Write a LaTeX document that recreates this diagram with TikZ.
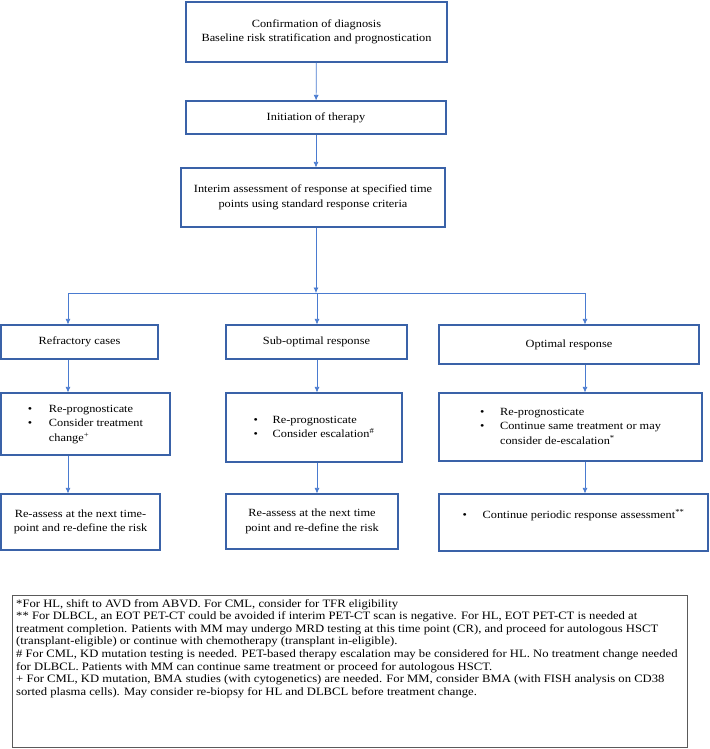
\documentclass[tikz,border=0pt]{standalone}
\usepackage{fontspec}
\setmainfont{Liberation Serif}[FakeStretch=1.12]
\usetikzlibrary{arrows.meta}
\definecolor{boxblue}{HTML}{3A62A8}
\definecolor{arrowblue}{HTML}{4A7BD0}
\definecolor{notegray}{HTML}{5A5A5A}
\tikzset{
  >={Latex[length=5.5pt,width=5pt]},
  flowbox/.style={draw=boxblue,line width=1.1pt,inner sep=0pt,align=center,
    font=\fontsize{11}{14.5}\selectfont},
  flowarrow/.style={->,draw=arrowblue,line width=0.7pt},
  notebox/.style={draw=notegray,line width=0.8pt,inner sep=0pt},
}
\newcommand{\bul}{\textbullet}

\begin{document}
\begin{tikzpicture}[x=1pt,y=-1pt]
    \useasboundingbox (0,0) rectangle (709,749);
    \node[flowbox,minimum width=261,minimum height=60] (diag) at (316.5,32)
      {Confirmation of diagnosis\\Baseline risk stratification and prognostication};
    \node[flowbox,minimum width=260,minimum height=33] (init) at (316,117.5)
      {Initiation of therapy};
    \node[flowbox,minimum width=264,minimum height=59] (interim) at (313,197.5)
      {Interim assessment of response at specified time\\points using standard response criteria};
    \coordinate (split) at (316,293);
    \coordinate (colA) at (68,293);
    \coordinate (colB) at (317,293);
    \coordinate (colC) at (585,293);
    % response groups
    \node[flowbox,minimum width=157,minimum height=34] (refr) at (79.5,342) {Refractory cases};
    \node[flowbox,minimum width=181,minimum height=34] (subopt) at (316.5,342) {Sub-optimal response};
    \node[flowbox,minimum width=260,minimum height=39] (opt) at (569,344.5) {Optimal response};
    \node[flowbox,minimum width=169,minimum height=62] (refrAct) at (85.5,424)
      {\begin{tabular}{@{}p{21pt}@{}l@{}}
        \bul & Re-prognosticate\\
        \bul & Consider treatment\\
             & change\textsuperscript{+}
       \end{tabular}};
    \node[flowbox,minimum width=176,minimum height=69] (suboptAct) at (314,427.5)
      {\begin{tabular}{@{}p{19pt}@{}l@{}}
        \bul & Re-prognosticate\\
        \bul & Consider escalation\textsuperscript{\#}
       \end{tabular}};
    \node[flowbox,minimum width=263,minimum height=68] (optAct) at (570.5,427)
      {\begin{tabular}{@{}p{20pt}@{}l@{}}
        \bul & Re-prognosticate\\
        \bul & Continue same treatment or may\\
             & consider de-escalation\textsuperscript{*}
       \end{tabular}};
    \node[flowbox,minimum width=159,minimum height=56] (refrNext) at (80.5,522)
      {Re-assess at the next time-\\point and re-define the risk};
    \node[flowbox,minimum width=172,minimum height=55] (suboptNext) at (312,521.5)
      {Re-assess at the next time\\point and re-define the risk};
    \node[flowbox,minimum width=269,minimum height=57] (optNext) at (573.5,522.5)
      {\begin{tabular}{@{}p{20pt}@{}l@{}}
        \bul & Continue periodic response assessment\textsuperscript{**}\\
             & \mbox{}
       \end{tabular}};
    % connectors
    \draw[flowarrow] (diag) -- (init);
    \draw[flowarrow] (init.south) -- (init.south |- interim.north);
    \draw[flowarrow] (interim.south -| split) -- (split);
    \draw[arrowblue,line width=0.7pt] (colA) -- (colC);
    \draw[flowarrow] (colA) -- (colA |- refr.north);
    \draw[flowarrow] (colB) -- (colB |- subopt.north);
    \draw[flowarrow] (colC) -- (colC |- opt.north);
    \draw[flowarrow] (refr.south -| colA) -- (refrAct.north -| colA);
    \draw[flowarrow] (subopt.south -| colB) -- (suboptAct.north -| colB);
    \draw[flowarrow] (opt.south -| colC) -- (optAct.north -| colC);
    \draw[flowarrow] (refrAct.south -| colA) -- (refrNext.north -| colA);
    \draw[flowarrow] (suboptAct.south -| colB) -- (suboptNext.north -| colB);
    \draw[flowarrow] (optAct.south -| colC) -- (optNext.north -| colC);
    % footnotes
    \node[notebox,minimum width=675,minimum height=152] (notes) at (349.5,671) {};
    \node[anchor=north west,inner sep=0pt,align=left,font=\fontsize{11.3}{12.6}\selectfont]
      (notetext) at (16,599)
      {*For HL, shift to AVD from ABVD. For CML, consider for TFR eligibility\\
       {}** For DLBCL, an EOT PET-CT could be avoided if interim PET-CT scan is negative. For HL, EOT PET-CT is needed at\\
       treatment completion. Patients with MM may undergo MRD testing at this time point (CR), and proceed for autologous HSCT\\
       (transplant-eligible) or continue with chemotherapy (transplant in-eligible).\\
       \# For CML, KD mutation testing is needed. PET-based therapy escalation may be considered for HL. No treatment change needed\\
       for DLBCL. Patients with MM can continue same treatment or proceed for autologous HSCT.\\
       + For CML, KD mutation, BMA studies (with cytogenetics) are needed. For MM, consider BMA (with FISH analysis on CD38\\
       sorted plasma cells). May consider re-biopsy for HL and DLBCL before treatment change.};
  \end{tikzpicture}
\end{document}
